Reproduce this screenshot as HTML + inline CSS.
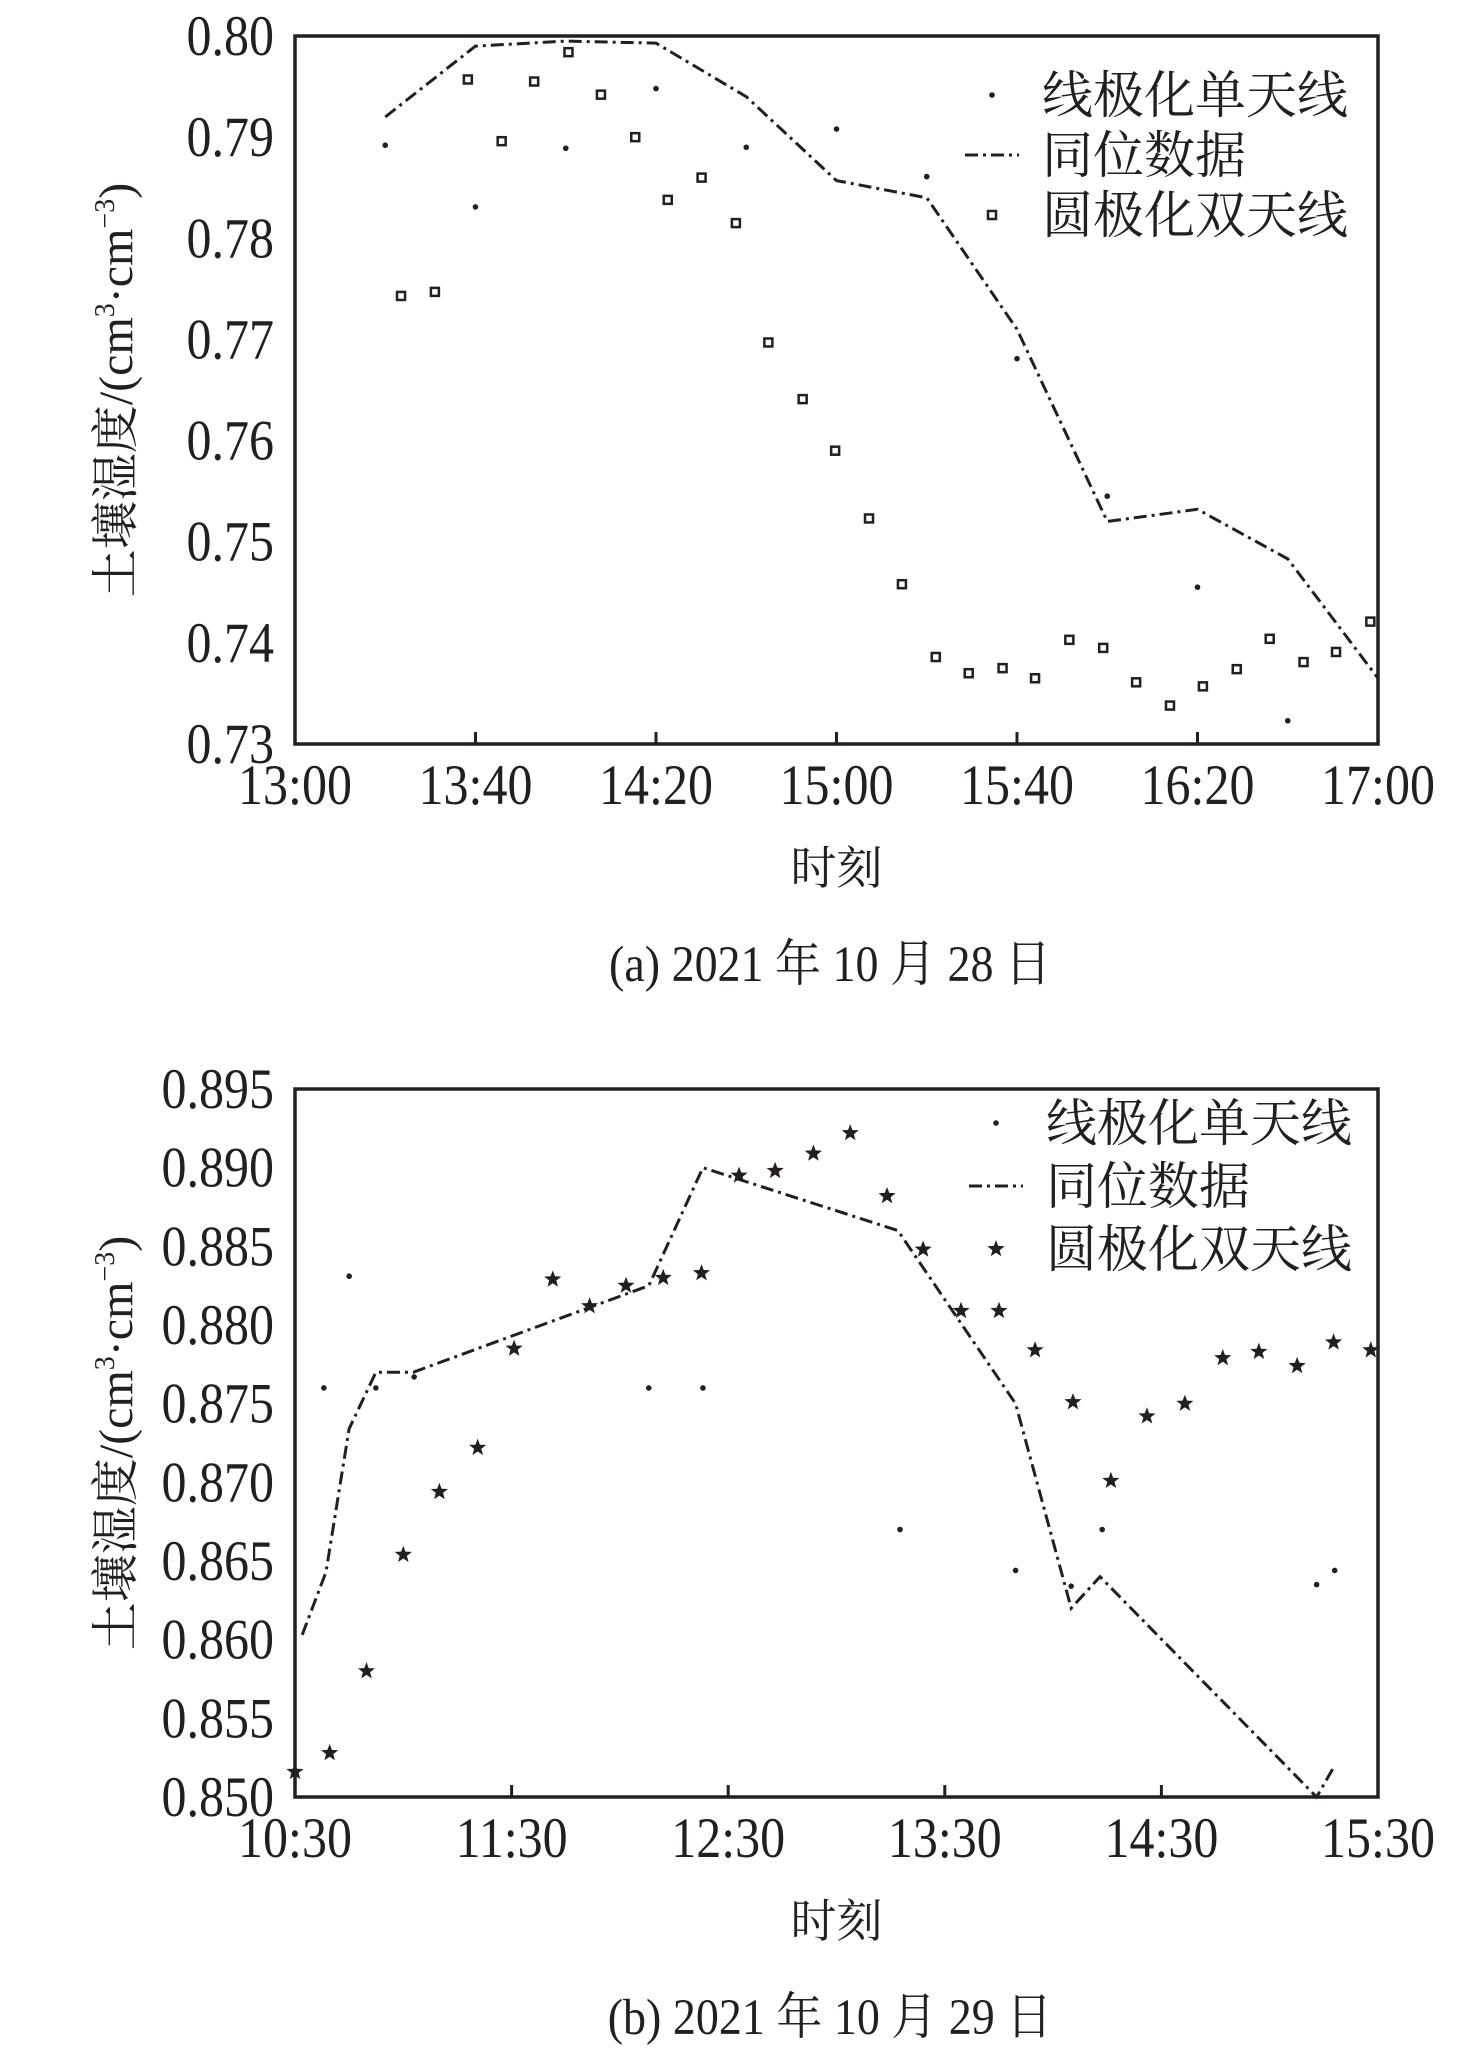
<!DOCTYPE html>
<html><head><meta charset="utf-8">
<style>
html,body{margin:0;padding:0;background:#fff;}
svg{display:block;}
text{font-family:"Liberation Serif","Noto Serif CJK SC","Noto Sans CJK SC",serif;fill:#231f20;}
</style></head>
<body>
<svg id="fig" width="1476" height="2057" viewBox="0 0 1476 2057" xmlns="http://www.w3.org/2000/svg"></svg>
<script>
// ---- Chart (a) data ----
const aYTicks = [0.73,0.74,0.75,0.76,0.77,0.78,0.79,0.80];
const aYTickLabels = ["0.73","0.74","0.75","0.76","0.77","0.78","0.79","0.80"];
const aXTicks = [0,40,80,120,160,200,240];
const aXTickLabels = ["13:00","13:40","14:20","15:00","15:40","16:20","17:00"];
const aLineX = [20,40,60,80,100,120,140,160,180,200,220,240];
const aLineY = [0.792,0.799,0.7995,0.7993,0.794,0.7857,0.784,0.771,0.752,0.7532,0.7483,0.7365];
const aLinX = [20,40,60,80,100,120,140,160,180,200,220];
const aLinY = [0.7892,0.7831,0.7889,0.7948,0.789,0.7908,0.7861,0.7681,0.7545,0.7455,0.7323];
const aCirX = [23.5,31,38.3,45.8,53,60.6,67.8,75.4,82.6,90.1,97.7,104.9,112.5,119.7,127.2,134.5,142,149.3,156.8,164,171.6,179.1,186.4,193.9,201.2,208.7,216,223.5,230.7,238.3];
const aCirY = [0.7743,0.7747,0.7957,0.7896,0.7955,0.7984,0.7942,0.79,0.7838,0.786,0.7815,0.7697,0.7641,0.759,0.7523,0.7458,0.7386,0.737,0.7375,0.7365,0.7403,0.7395,0.7361,0.7338,0.7357,0.7374,0.7404,0.7381,0.7391,0.7421];
// ---- Chart (b) data ----
const bYTicks = [0.850,0.855,0.860,0.865,0.870,0.875,0.880,0.885,0.890,0.895];
const bYTickLabels = ["0.850","0.855","0.860","0.865","0.870","0.875","0.880","0.885","0.890","0.895"];
const bXTicks = [0,60,120,180,240,300];
const bXTickLabels = ["10:30","11:30","12:30","13:30","14:30","15:30"];
const bLineX = [2,8.6,15,22.4,32.8,98,113,167,199.6,215,223,283,288];
const bLineY = [0.8603,0.8643,0.8734,0.877,0.877,0.8825,0.89,0.886,0.875,0.862,0.864,0.850,0.852];
const bLinX = [8,15,22.4,33,98,113,167.6,199.6,215,223.6,283,288];
const bLinY = [0.876,0.8831,0.876,0.8767,0.876,0.876,0.867,0.8644,0.8634,0.867,0.8635,0.8644];
const bCirX = [0,9.6,19.8,30,40,50.6,60.7,71.4,81.6,91.7,102,112.6,123,133,143.6,153.8,164,174,184.5,195,205,215.5,226,236,246.5,257,267,277.6,287.7,298];
const bCirY = [0.8516,0.8528,0.858,0.8654,0.8694,0.8722,0.8785,0.8829,0.8812,0.8825,0.883,0.8833,0.8895,0.8898,0.8909,0.8922,0.8882,0.8848,0.8809,0.8809,0.8784,0.8751,0.8701,0.8742,0.875,0.8779,0.8783,0.8774,0.8789,0.8784];

const NS = "http://www.w3.org/2000/svg";
const svg = document.getElementById('fig');
function mk(tag, attrs, parent){
  const e = document.createElementNS(NS, tag);
  for (const k in attrs) e.setAttribute(k, attrs[k]);
  (parent||svg).appendChild(e);
  return e;
}
function starPath(cx, cy, R){
  const r = R*0.42; let d = "";
  for (let i=0;i<10;i++){
    const ang = -Math.PI/2 + i*Math.PI/5;
    const rr = i%2===0 ? R : r;
    d += (i===0?"M":"L") + (cx+rr*Math.cos(ang)).toFixed(1) + " " + (cy+rr*Math.sin(ang)).toFixed(1);
  }
  return d + "Z";
}
function drawChart(cfg){
  const g = mk('g', {});
  
  
  const L=295, R=1378, T=cfg.top, B=cfg.bottom;
  const sx = v => L + (v - cfg.xMin)/(cfg.xMax - cfg.xMin)*(R-L);
  const sy = v => B - (v - cfg.yMin)/(cfg.yMax - cfg.yMin)*(B-T);
  cfg.yTicks.forEach((v,i)=>{
    const by = sy(v)+19;
    const t = mk('text', {x:0, y:0, 'text-anchor':'end', 'font-size':50, transform:`translate(274,${by}) scale(1,1.15)`}, g);
    t.textContent = cfg.yLabels[i];
    
    
  });
  cfg.xTicks.forEach((v,i)=>{
    const tk = mk('line', {x1:sx(v), x2:sx(v), y1:B, y2:B-12, stroke:'#231f20', 'stroke-width':3}, g);
    
    
    const t = mk('text', {x:0, y:0, 'text-anchor':'middle', 'font-size':50, transform:`translate(${sx(v)},${B+60}) scale(1,1.15)`}, g);
    t.textContent = cfg.xLabels[i];
    
    
  });
  const pts = cfg.lineX.map((x,i)=> sx(x).toFixed(1)+","+sy(cfg.lineY[i]).toFixed(1)).join(" ");
  const pl = mk('polyline', {points:pts, fill:'none', stroke:'#231f20', 'stroke-width':3, 'stroke-dasharray':'13,5,3,5'}, g);
  
  
  cfg.linX.forEach((x,i)=>{
    const c = mk('circle', {cx:sx(x), cy:sy(cfg.linY[i]), r:2.8, fill:'#231f20'}, g);
    
    
  });
  cfg.cirX.forEach((x,i)=>{
    const cx = sx(x), cy = sy(cfg.cirY[i]);
    let m;
    if (cfg.star) m = mk('path', {d:starPath(cx,cy,9), fill:'#231f20'}, g);
    else m = mk('rect', {x:cx-4, y:cy-4, width:8, height:8, fill:'#fff', stroke:'#231f20', 'stroke-width':2.5}, g);
    
    
  });
  const fr = mk('rect', {x:L, y:T, width:R-L, height:B-T, fill:'none', stroke:'#231f20', 'stroke-width':3.5}, g);
  
  
  const lg = mk('g', {}, g);
  
  
  const ly = cfg.legendY, lx = cfg.legendX;
  const d1 = mk('circle', {cx:lx, cy:ly[0], r:2.8, fill:'#231f20'}, lg);
  
  
  const l2 = mk('line', {x1:lx-27, x2:lx+27, y1:ly[1], y2:ly[1], stroke:'#231f20', 'stroke-width':3, 'stroke-dasharray':'13,5,3,5'}, lg);
  
  
  let m3;
  if (cfg.star) m3 = mk('path', {d:starPath(lx,ly[2],9), fill:'#231f20'}, lg);
  else m3 = mk('rect', {x:lx-4, y:ly[2]-4, width:8, height:8, fill:'#fff', stroke:'#231f20', 'stroke-width':2.5}, lg);
  
  
  ["线极化单天线","同位数据","圆极化双天线"].forEach((s,i)=>{
    const t = mk('text', {x:lx+50, y:ly[i]+18, 'font-size':51}, lg);
    t.textContent = s;
    
    
  });
  const yt = mk('text', {x:0, y:0, 'text-anchor':'middle', 'font-size':48, transform:`translate(132,${(T+B)/2}) rotate(-90)`}, g);
  yt.innerHTML = '土壤湿度/(cm<tspan font-size="28" dy="-18">3</tspan><tspan dy="18">·cm</tspan><tspan font-size="28" dy="-18">−3</tspan><tspan dy="18">)</tspan>';
  
  
  const xt = mk('text', {x:(L+R)/2, y:B+140, 'text-anchor':'middle', 'font-size':46}, g);
  xt.textContent = '时刻';
  
  
  const cap = mk('text', {x:0, y:0, 'text-anchor':'middle', 'font-size':46, transform:`translate(830,${B+237}) scale(1,1.1)`}, g);
  cap.textContent = cfg.caption;
  
  
}
drawChart({name:'chart-a', top:36, bottom:744, xMin:0, xMax:240, yMin:0.73, yMax:0.80,
  yTicks:aYTicks, yLabels:aYTickLabels, xTicks:aXTicks, xLabels:aXTickLabels,
  lineX:aLineX, lineY:aLineY, linX:aLinX, linY:aLinY, cirX:aCirX, cirY:aCirY, star:false,
  legendX:992, legendY:[95,155,215], caption:'(a) 2021 年 10 月 28 日'});
drawChart({name:'chart-b', top:1089, bottom:1797, xMin:0, xMax:300, yMin:0.850, yMax:0.895,
  yTicks:bYTicks, yLabels:bYTickLabels, xTicks:bXTicks, xLabels:bXTickLabels,
  lineX:bLineX, lineY:bLineY, linX:bLinX, linY:bLinY, cirX:bCirX, cirY:bCirY, star:true,
  legendX:996, legendY:[1123,1186,1249], caption:'(b) 2021 年 10 月 29 日'});
</script>
</body></html>
